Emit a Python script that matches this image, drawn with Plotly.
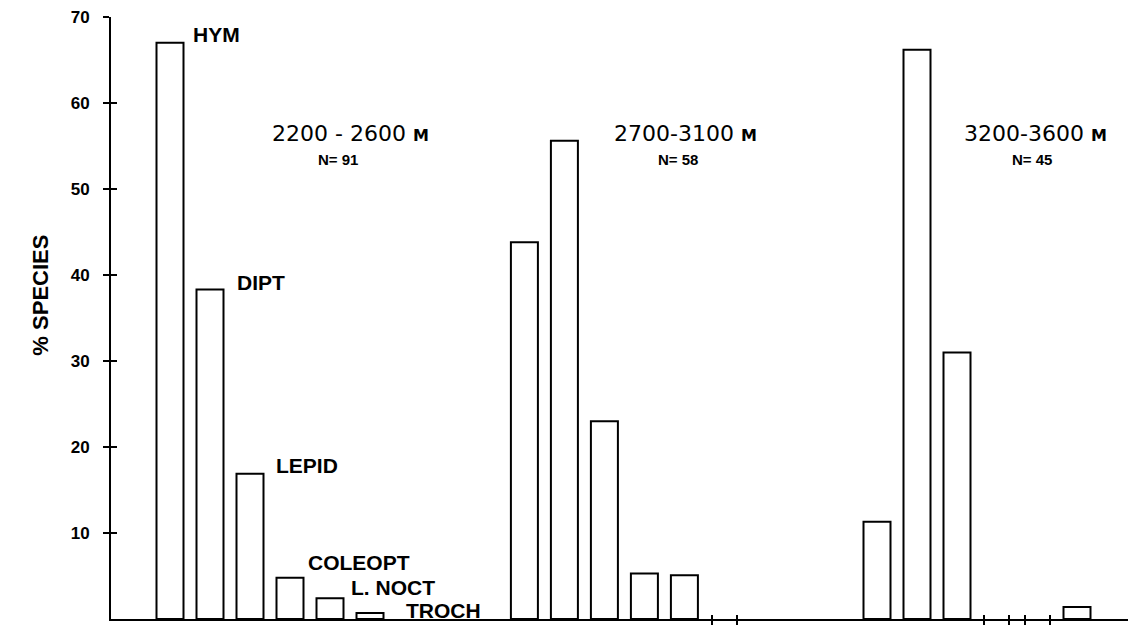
import plotly.graph_objects as go

# ---- data ----
altitude_bands = ["2200 - 2600", "2700-3100", "3200-3600"]
band_n = [91, 58, 45]
orders = ["HYM", "DIPT", "LEPID", "COLEOPT", "L. NOCT", "TROCH"]
pct_2200 = [67.0, 38.3, 16.9, 4.8, 2.4, 0.7]
pct_2700 = [43.8, 55.6, 23.0, 5.3, 5.1, None]
pct_3200 = [11.3, 66.2, 31.0, None, None, 1.4]
y_tick_vals = [10, 20, 30, 40, 50, 60, 70]
x_mark_vals = [13.55, 14.175, 20.35, 20.975, 21.375, 22.0]

# ---- layout helpers ----
group_offset = [0, 8.86, 17.675]
bar_w = 0.675
FONT = "Liberation Sans"

fig = go.Figure()
for g, vals in enumerate([pct_2200, pct_2700, pct_3200]):
    xs = [group_offset[g] + i for i in range(len(orders))]
    fig.add_trace(go.Bar(
        x=xs, y=vals, width=bar_w, name=altitude_bands[g],
        marker=dict(color="white", line=dict(color="black", width=2)),
        showlegend=False, hoverinfo="skip",
    ))

# invisible trace on overlay axes (for crossing ticks)
fig.add_trace(go.Scatter(x=[None], y=[None], xaxis="x2", yaxis="y2",
                         showlegend=False, hoverinfo="skip"))

xr = [-1.475, 23.95]
yr = [0, 70]

fig.update_layout(
    width=1128, height=625,
    margin=dict(l=111, r=0, t=17, b=6),
    paper_bgcolor="white", plot_bgcolor="white",
    barmode="overlay",
    xaxis=dict(range=xr, showline=True, linecolor="black", linewidth=2,
               tickvals=x_mark_vals, ticks="outside", ticklen=4, tickwidth=2,
               tickcolor="black", showticklabels=False, showgrid=False,
               zeroline=False, fixedrange=True),
    xaxis2=dict(range=xr, overlaying="x", anchor="y", side="bottom",
                tickvals=x_mark_vals, ticks="inside", ticklen=4, tickwidth=2,
                tickcolor="black", showticklabels=False, showgrid=False,
                showline=False, zeroline=False),
    yaxis=dict(range=yr, showline=True, linecolor="black", linewidth=2,
               tickvals=y_tick_vals, ticks="outside", ticklen=6, tickwidth=2,
               tickcolor="black", showgrid=False, zeroline=False,
               ticklabelstandoff=10,
               tickfont=dict(family=FONT, size=17, color="black", weight="bold")),
    yaxis2=dict(range=yr, overlaying="y", anchor="x", side="left",
                tickvals=y_tick_vals, ticks="inside", ticklen=6, tickwidth=2,
                tickcolor="black", showticklabels=False, showgrid=False,
                showline=False, zeroline=False),
)

# y-axis title
fig.add_annotation(text="<b>% SPECIES</b>", xref="paper", yref="y",
                   x=0, y=37.6, xshift=-70, textangle=-90,
                   showarrow=False, xanchor="center", yanchor="middle",
                   font=dict(family=FONT, size=22, color="black"))

# bar labels (first group)
label_gap = [7, 11, 10, 2, 5, 20]
label_lift = [8, 7, 8, 15, 11, 2]
for i, name in enumerate(orders):
    fig.add_annotation(text=f"<b>{name}</b>", x=group_offset[0] + i + bar_w / 2,
                       y=pct_2200[i], xref="x", yref="y", showarrow=False,
                       xanchor="left", yanchor="middle",
                       xshift=label_gap[i], yshift=label_lift[i],
                       font=dict(family=FONT, size=21, color="black"))

# group titles
title_x = [2.5, 11.05, 19.8]
n_x = [4.2, 12.7, 21.55]
for g in range(3):
    fig.add_annotation(text=f"{altitude_bands[g]} <span style='font-size:16px'><b>M</b></span>",
                       x=title_x[g], y=56.5, xref="x", yref="y",
                       showarrow=False, xanchor="left", yanchor="middle",
                       font=dict(family="DejaVu Sans", size=22, color="black"))
    fig.add_annotation(text=f"<b>N= {band_n[g]}</b>",
                       x=n_x[g], y=53.4, xref="x", yref="y",
                       showarrow=False, xanchor="center", yanchor="middle",
                       font=dict(family=FONT, size=15, color="black"))

fig.write_html("out.html", config={"displayModeBar": False},
               post_script="document.body.style.margin='0';document.body.style.padding='0';")
